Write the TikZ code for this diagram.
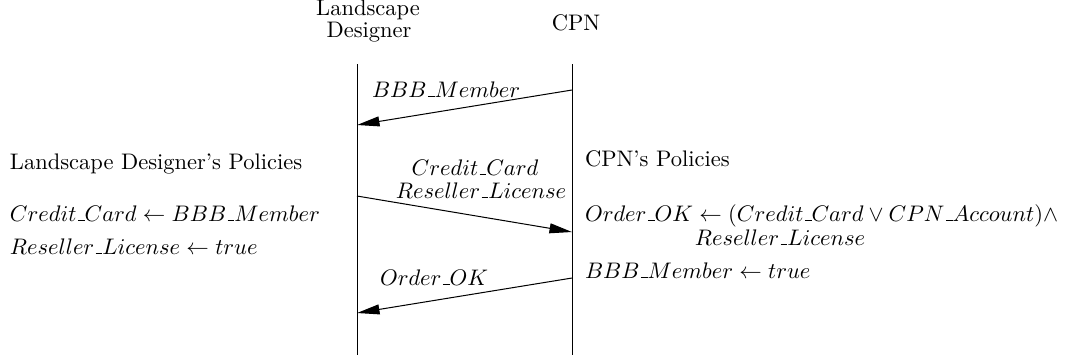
\documentclass[tikz,border=0pt]{standalone}
\usetikzlibrary{arrows.meta}
\newcommand{\usc}{\kern.06em\vbox{\hrule width.3em}}
\begin{document}
\begin{tikzpicture}[x=0.4444pt,y=-0.4444pt,
  txt/.style={inner sep=0pt,outer sep=0pt,font=\normalsize},
  life/.style={line width=0.45pt},
  msg/.style={line width=0.45pt,-{Triangle[length=10pt,width=4.4pt]}}]
\useasboundingbox (0,0) rectangle (1065,360);
% headers
\node[txt,anchor=base] (h1a) at (368,15) {Landscape};
\node[txt,anchor=base] (h1b) at (369,37) {Designer};
\node[txt,anchor=base] (h2) at (576,30) {CPN};
% lifelines
\coordinate (ldtop) at (357,64);
\coordinate (ldbot) at (357,355);
\coordinate (cptop) at (572,64);
\coordinate (cpbot) at (572,355);
\draw[life] (ldtop) -- (ldbot);
\draw[life] (cptop) -- (cpbot);
% message endpoints
\coordinate (m1s) at (572,90);
\coordinate (m1e) at (357,125);
\coordinate (m2s) at (357,196);
\coordinate (m2e) at (572,232);
\coordinate (m3s) at (572,278);
\coordinate (m3e) at (357,313);
\draw[msg] (m1s) -- (m1e);
\draw[msg] (m2s) -- (m2e);
\draw[msg] (m3s) -- (m3e);
% message labels
\node[txt,anchor=base west] (l1) at (372,97) {$BBB\usc Member$};
\node[txt,anchor=base] (l2a) at (475,175) {$Credit\usc Card$};
\node[txt,anchor=base] (l2b) at (481,198) {$Reseller\usc License$};
\node[txt,anchor=base west] (l3) at (380,285) {$Order\usc OK$};
% left policies
\node[txt,anchor=base west] (lp0) at (10,169) {Landscape Designer's Policies};
\node[txt,anchor=base west] (lp1) at (10,221) {$Credit\usc Card \leftarrow BBB\usc Member$};
\node[txt,anchor=base west] (lp2) at (10,254) {$Reseller\usc License \leftarrow true$};
% right policies
\node[txt,anchor=base west] (rp0) at (585,166) {CPN's Policies};
\node[txt,anchor=base west] (rp1) at (585,221) {$Order\usc OK \leftarrow (Credit\usc Card \vee CPN\usc Account) \wedge$};
\node[txt,anchor=base] (rp1b) at (780,245) {$Reseller\usc License$};
\node[txt,anchor=base west] (rp2) at (585,278) {$BBB\usc Member \leftarrow true$};
\end{tikzpicture}
\end{document}
